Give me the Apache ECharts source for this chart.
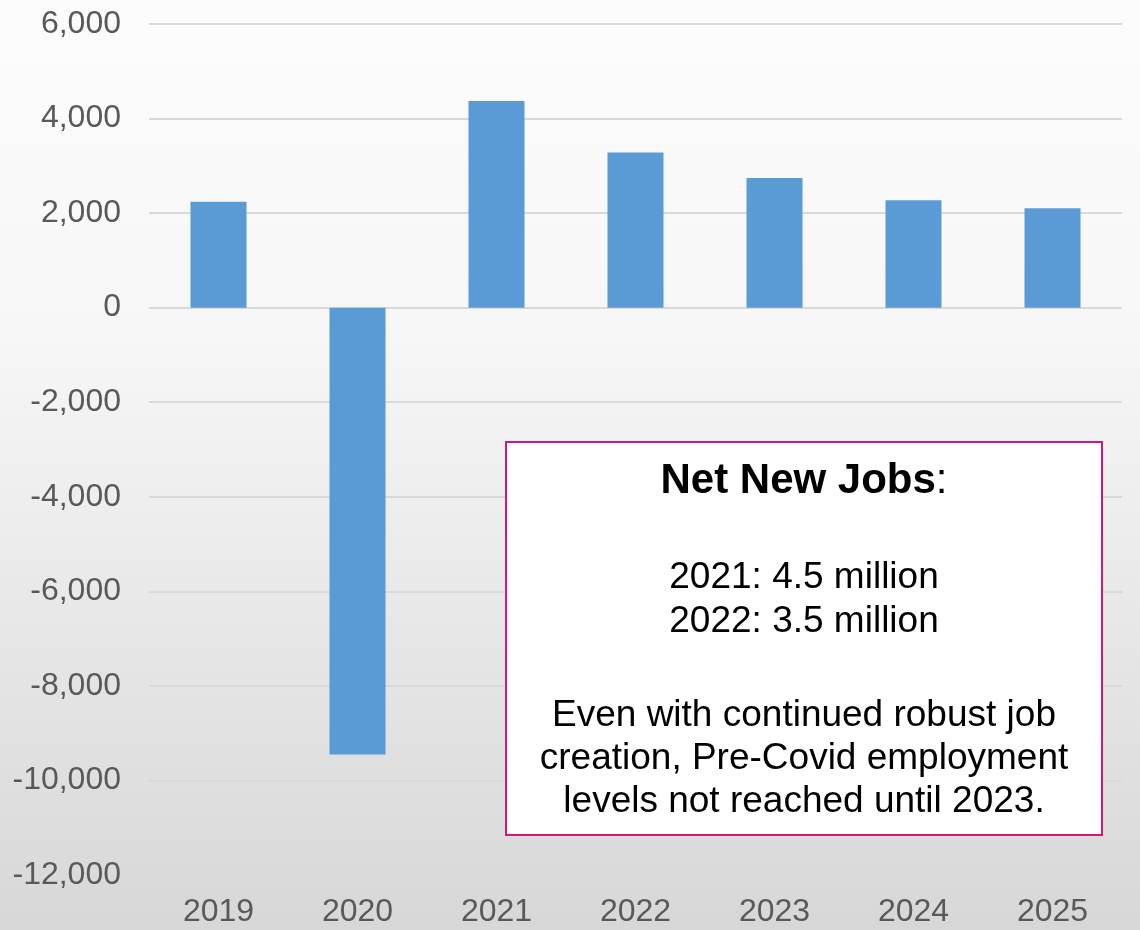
<!DOCTYPE html>
<html>
<head>
<meta charset="utf-8">
<script src="https://cdn.jsdelivr.net/npm/echarts@6/dist/echarts.min.js"></script>
<style>
html,body{margin:0;padding:0;}
#chart{width:1140px;height:930px;}
</style>
</head>
<body>
<div id="chart"></div>
<script>
var categories = ['2019','2020','2021','2022','2023','2024','2025'];
var netNewJobs = [2240, -9450, 4370, 3280, 2745, 2272, 2105];
var yMin = -12000, yMax = 6000, yStep = 2000;
var noteTitle = 'Net New Jobs';
var noteFigures = ['2021: 4.5 million', '2022: 3.5 million'];
var noteRemark = ['Even with continued robust job', 'creation, Pre-Covid employment', 'levels not reached until 2023.'];

var chart = echarts.init(document.getElementById('chart'));
var FONT = 'Liberation Sans, Arial, sans-serif';

chart.setOption({
  animation: false,
  backgroundColor: new echarts.graphic.LinearGradient(0, 0, 0, 1, [
    {offset: 0, color: '#fcfcfc'},
    {offset: 0.35, color: '#f7f7f7'},
    {offset: 1, color: '#d7d7d7'}
  ]),
  grid: {left: 149, right: 18, top: 24, bottom: 55, containLabel: false},
  xAxis: {
    type: 'category',
    data: categories,
    position: 'bottom',
    axisLine: {show: false, onZero: false},
    axisTick: {show: false},
    axisLabel: {color: '#595959', fontSize: 32, fontFamily: FONT, margin: 21}
  },
  yAxis: {
    type: 'value',
    min: yMin, max: yMax, interval: yStep,
    axisLine: {show: false},
    axisTick: {show: false},
    axisLabel: {
      color: '#595959', fontSize: 32, fontFamily: FONT, margin: 28,
      formatter: function(v){ return v.toLocaleString('en-US'); }
    },
    splitLine: {lineStyle: {color: '#d9d9d9', width: 2}}
  },
  series: [{
    type: 'bar',
    data: netNewJobs,
    barWidth: 56,
    itemStyle: {color: '#5b9bd5'}
  }],
  graphic: [{
    type: 'group',
    left: 505,
    top: 441,
    z: 100,
    children: [{
      type: 'rect',
      z: 100,
      shape: {x: 0, y: 0, width: 596, height: 393},
      style: {fill: '#ffffff', stroke: '#cc1a78', lineWidth: 2}
    }, {
      type: 'text',
      z: 101,
      x: 298,
      y: 39,
      style: {
        text: '{b|' + noteTitle + '}{n|:}',
        align: 'center',
        verticalAlign: 'middle',
        rich: {
          b: {fontSize: 42, fontWeight: 'bold', fontFamily: FONT, fill: '#000'},
          n: {fontSize: 42, fontFamily: FONT, fill: '#000'}
        }
      }
    }, {
      type: 'text',
      z: 101,
      x: 298,
      y: 114,
      style: {
        text: noteFigures.join('\n'),
        align: 'center',
        verticalAlign: 'top',
        fontSize: 37,
        lineHeight: 44,
        fontFamily: FONT,
        fill: '#000'
      }
    }, {
      type: 'text',
      z: 101,
      x: 298,
      y: 252,
      style: {
        text: noteRemark.join('\n'),
        align: 'center',
        verticalAlign: 'top',
        fontSize: 37,
        lineHeight: 43,
        fontFamily: FONT,
        fill: '#000'
      }
    }]
  }]
});
</script>
</body>
</html>
